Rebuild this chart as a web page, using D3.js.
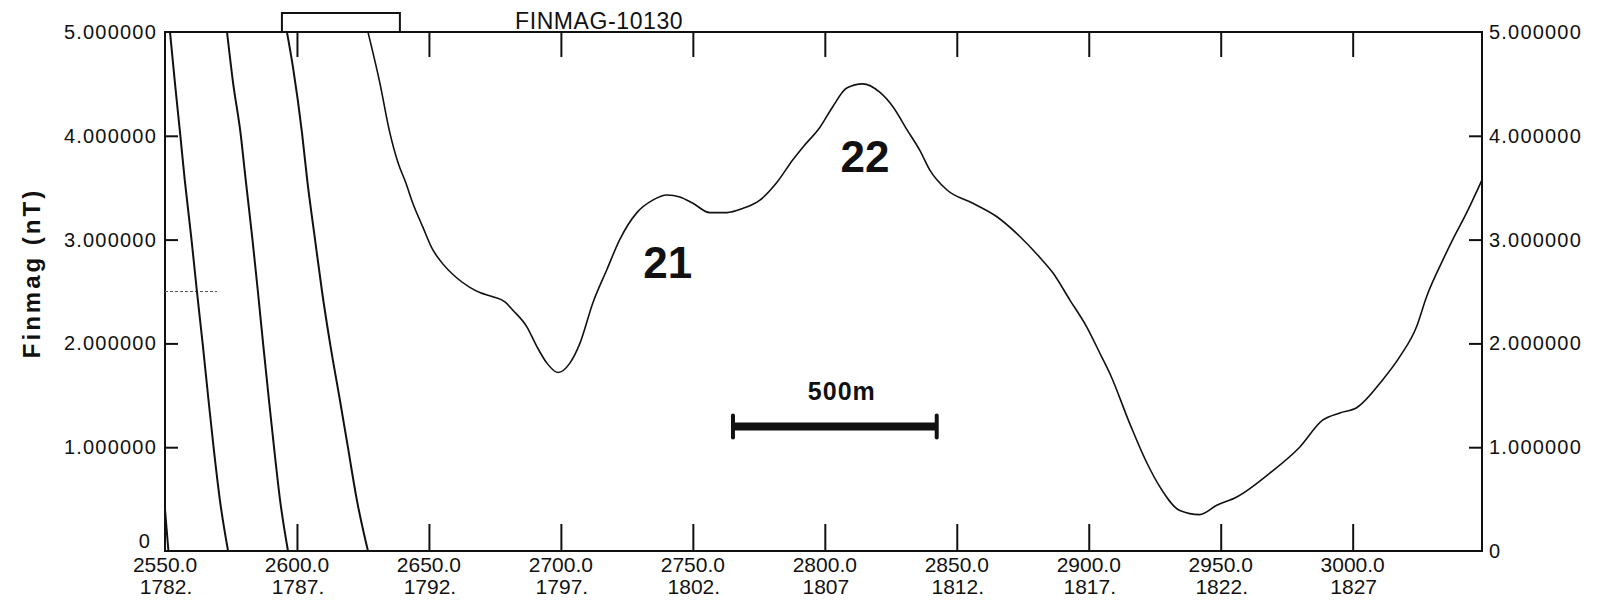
<!DOCTYPE html>
<html>
<head>
<meta charset="utf-8">
<script src="https://cdn.jsdelivr.net/npm/d3@7"></script>
<style>
  html, body { margin: 0; padding: 0; background: #fff; }
  svg { display: block; font-family: "Liberation Sans", Arial, sans-serif; }
</style>
</head>
<body>
<svg id="chart" width="1604" height="608"></svg>
<script>
// ---------- data ----------
const chartTitle = "FINMAG-10130";
const yAxisTitle = "Finmag (nT)";
const xDomain = [2550, 3049];
const yDomain = [0, 5];

const xTickValues = [2600, 2650, 2700, 2750, 2800, 2850, 2900, 2950, 3000];
const xLabelPositions = [2550, 2600, 2650, 2700, 2750, 2800, 2850, 2900, 2950, 3000];
const xLabelsDistance = ["2550.0", "2600.0", "2650.0", "2700.0", "2750.0", "2800.0", "2850.0", "2900.0", "2950.0", "3000.0"];
const xLabelsStation = ["1782.", "1787.", "1792.", "1797.", "1802.", "1807", "1812.", "1817.", "1822.", "1827"];

const yTickValues = [1, 2, 3, 4];
const yLabelPositions = [0, 1, 2, 3, 4, 5];
const yLabels = ["0", "1.000000", "2.000000", "3.000000", "4.000000", "5.000000"];

// wrapped (off-scale) segments of the profile, [distance, nT]
const wrap0 = [[2550.0, 0.40], [2551.3, 0.0]];
const wrap1 = [[2551.9, 5.0], [2553.8, 4.50], [2555.7, 4.03], [2557.5, 3.57], [2560.0, 3.01], [2562.1, 2.50],
               [2564.3, 1.99], [2566.5, 1.45], [2568.4, 1.00], [2570.8, 0.49], [2573.9, 0.0]];
const wrap2 = [[2573.5, 5.0], [2575.8, 4.51], [2578.6, 4.03], [2580.6, 3.57], [2583.1, 3.01],
               [2585.2, 2.50], [2587.2, 1.99], [2589.4, 1.45], [2591.3, 1.00], [2593.6, 0.49], [2596.6, 0.0]];
const wrap3 = [[2596.2, 5.0], [2598.5, 4.66], [2601.9, 4.03], [2603.9, 3.57], [2606.8, 3.01],
               [2609.5, 2.50], [2612.6, 1.99], [2616.3, 1.45], [2619.3, 1.00], [2622.7, 0.49], [2626.9, 0.0]];

// main magnetic profile, [distance, nT]
const profile = [
  [2626.9, 5.00], [2631.4, 4.51], [2635.0, 4.05], [2638.3, 3.74], [2641.2, 3.55], [2643.9, 3.35],
  [2647.7, 3.12], [2651.5, 2.90], [2654.2, 2.80], [2660.6, 2.63], [2665.5, 2.54], [2669.3, 2.49],
  [2674.2, 2.45], [2678.8, 2.40], [2681.8, 2.32], [2687.1, 2.16], [2690.9, 1.97], [2694.7, 1.81],
  [2698.9, 1.72], [2703.4, 1.81], [2707.2, 2.00], [2712.1, 2.39], [2717.4, 2.71], [2722.3, 3.00],
  [2728.8, 3.26], [2734.8, 3.38], [2740.2, 3.43], [2745.1, 3.41], [2750.0, 3.35], [2756.4, 3.26],
  [2762.9, 3.26], [2768.9, 3.30], [2775.4, 3.38], [2781.8, 3.55], [2787.9, 3.77], [2792.0, 3.90],
  [2798.1, 4.08], [2803.0, 4.28], [2808.3, 4.46], [2814.4, 4.50], [2820.8, 4.42], [2825.8, 4.28],
  [2831.1, 4.06], [2836.0, 3.86], [2839.8, 3.67], [2846.2, 3.48], [2856.1, 3.35], [2865.2, 3.22],
  [2873.9, 3.03], [2881.4, 2.83], [2886.4, 2.68], [2892.8, 2.42], [2899.2, 2.16], [2904.9, 1.87],
  [2908.0, 1.71], [2915.5, 1.23], [2922.0, 0.85], [2926.9, 0.62], [2934.5, 0.39], [2942.0, 0.35],
  [2948.5, 0.44], [2956.1, 0.52], [2968.6, 0.75], [2979.9, 1.00], [2988.6, 1.26], [2995.1, 1.33],
  [3001.5, 1.38], [3011.4, 1.65], [3017.8, 1.87], [3024.2, 2.16], [3028.0, 2.45], [3034.1, 2.80],
  [3037.9, 3.00], [3043.2, 3.26], [3048.9, 3.57]
];

// annotations
const anomalyLabels = [{ text: "21", x: 2740.5, y: 2.63 }, { text: "22", x: 2815.2, y: 3.65 }];
const scaleBar = { label: "500m", x0: 2765.2, x1: 2842.4, y: 1.20, labelY: 1.45 };
const refDash = { y: 2.5, x0: 2550, x1: 2569.7 };
const topBox = { x0: 2594.3, x1: 2639.0 };

// ---------- layout ----------
const M = { left: 165, right: 1482, top: 32, bottom: 551 };
const svg = d3.select("#chart");

const x = d3.scaleLinear().domain(xDomain).range([M.left, M.right]);
const y = d3.scaleLinear().domain(yDomain).range([M.bottom, M.top]);

const ink = "#111";

// frame
svg.append("rect")
  .attr("x", M.left).attr("y", M.top)
  .attr("width", M.right - M.left).attr("height", M.bottom - M.top)
  .attr("fill", "none").attr("stroke", ink).attr("stroke-width", 2);

// ticks (inward) via d3 axes
function styleAxis(g) {
  g.select(".domain").remove();
  g.selectAll(".tick line").attr("stroke", ink).attr("stroke-width", 2);
}
svg.append("g").attr("transform", `translate(0,${M.bottom})`)
  .call(d3.axisBottom(x).tickValues(xTickValues).tickSize(-27).tickFormat(""))
  .call(styleAxis);
svg.append("g").attr("transform", `translate(0,${M.top})`)
  .call(d3.axisTop(x).tickValues(xTickValues).tickSize(-25).tickFormat(""))
  .call(styleAxis);
svg.append("g").attr("transform", `translate(${M.left},0)`)
  .call(d3.axisLeft(y).tickValues(yTickValues).tickSize(-13).tickFormat(""))
  .call(styleAxis);
svg.append("g").attr("transform", `translate(${M.right},0)`)
  .call(d3.axisRight(y).tickValues(yTickValues).tickSize(-13).tickFormat(""))
  .call(styleAxis);

// y tick labels
svg.append("g").selectAll("text").data(yLabelPositions).join("text")
  .attr("x", d => d === 0 ? 151 : 157)
  .attr("y", d => d === 0 ? y(d) - 3 : y(d) + 7)
  .attr("text-anchor", "end")
  .attr("font-size", 20).attr("letter-spacing", 1.2)
  .attr("fill", ink)
  .text((d, i) => yLabels[i]);
svg.append("g").selectAll("text").data(yLabelPositions).join("text")
  .attr("x", 1489)
  .attr("y", d => y(d) + 7)
  .attr("text-anchor", "start")
  .attr("font-size", 20).attr("letter-spacing", 1.2)
  .attr("fill", ink)
  .text((d, i) => yLabels[i]);

// x tick labels (two lines)
const xl = svg.append("g");
xl.selectAll("text.d").data(xLabelPositions).join("text").attr("class", "d")
  .attr("x", d => x(d)).attr("y", 572)
  .attr("text-anchor", "middle").attr("font-size", 21).attr("fill", ink)
  .text((d, i) => xLabelsDistance[i]);
xl.selectAll("text.s").data(xLabelPositions).join("text").attr("class", "s")
  .attr("x", d => x(d) + 1).attr("y", 594)
  .attr("text-anchor", "middle").attr("font-size", 21).attr("fill", ink)
  .text((d, i) => xLabelsStation[i]);

// y axis title
svg.append("text")
  .attr("transform", `translate(40,273) rotate(-90)`)
  .attr("text-anchor", "middle")
  .attr("font-size", 24).attr("font-weight", "bold").attr("letter-spacing", 3)
  .attr("fill", ink)
  .text(yAxisTitle);

// top title + box
svg.append("text")
  .attr("x", 515).attr("y", 29)
  .attr("font-size", 23).attr("letter-spacing", 0.6).attr("fill", ink)
  .text(chartTitle);
svg.append("rect")
  .attr("x", x(topBox.x0)).attr("y", 13)
  .attr("width", x(topBox.x1) - x(topBox.x0)).attr("height", M.top - 13)
  .attr("fill", "none").attr("stroke", ink).attr("stroke-width", 2);

// reference dash at 2.5
svg.append("line")
  .attr("x1", x(refDash.x0)).attr("x2", x(refDash.x1))
  .attr("y1", y(refDash.y)).attr("y2", y(refDash.y))
  .attr("stroke", "#555").attr("stroke-width", 1).attr("stroke-dasharray", "3,2");

// profile lines
const line = d3.line().x(d => x(d[0])).y(d => y(d[1])).curve(d3.curveMonotoneX);
const plot = svg.append("g");
[wrap0, wrap1, wrap2, wrap3].forEach(seg => {
  plot.append("path").datum(seg).attr("d", line)
    .attr("fill", "none").attr("stroke", ink).attr("stroke-width", 2);
});
plot.append("path").datum(profile).attr("d", line)
  .attr("fill", "none").attr("stroke", ink).attr("stroke-width", 1.6);

// anomaly labels
svg.append("g").selectAll("text").data(anomalyLabels).join("text")
  .attr("x", d => x(d.x)).attr("y", d => y(d.y))
  .attr("text-anchor", "middle")
  .attr("font-size", 44).attr("font-weight", "bold").attr("fill", ink)
  .text(d => d.text);

// scale bar
const sb = svg.append("g");
sb.append("line")
  .attr("x1", x(scaleBar.x0)).attr("x2", x(scaleBar.x1))
  .attr("y1", y(scaleBar.y)).attr("y2", y(scaleBar.y))
  .attr("stroke", ink).attr("stroke-width", 8);
[scaleBar.x0, scaleBar.x1].forEach(v => {
  sb.append("line")
    .attr("x1", x(v)).attr("x2", x(v))
    .attr("y1", y(scaleBar.y) - 11).attr("y2", y(scaleBar.y) + 11)
    .attr("stroke", ink).attr("stroke-width", 4).attr("stroke-linecap", "round");
});
sb.append("text")
  .attr("x", x((scaleBar.x0 + scaleBar.x1) / 2) + 7).attr("y", y(scaleBar.labelY))
  .attr("text-anchor", "middle")
  .attr("font-size", 25).attr("font-weight", "bold").attr("letter-spacing", 1).attr("fill", ink)
  .text(scaleBar.label);
</script>
</body>
</html>
